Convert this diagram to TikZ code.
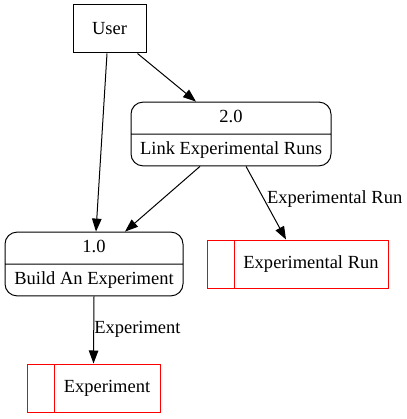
\documentclass[tikz,border=0pt]{standalone}
\usepackage{fontspec}
\setmainfont{Liberation Serif}
\usepackage{tikz}
\usetikzlibrary{shapes.multipart,arrows.meta}

\tikzset{
    proc/.style={rectangle split, rectangle split parts=2, draw, rounded corners=12pt,
        inner ysep=7pt, text height=13pt, text depth=4pt, align=center},
    entity/.style={draw, minimum height=48pt},
    store/.style={draw=red, minimum height=48pt, inner xsep=0pt,
        path picture={\draw[red] ([xshift=27pt]path picture bounding box.north west)
            -- ([xshift=27pt]path picture bounding box.south west);}},
    flow/.style={-{Triangle[length=13pt,width=9.5pt]}},
    flowlabel/.style={right, inner sep=0pt}
}

\begin{document}
\begin{tikzpicture}[x=1pt, y=-1pt, line width=1pt, font=\fontsize{18.5}{21}\selectfont]
                    \useasboundingbox (0,0) rectangle (406,419);
                    \node[entity, minimum width=73pt] (user) at (109.5, 29) {User};
                    \node[proc, minimum width=200pt] (p2) at (231, 134) {2.0 \nodepart{two} Link Experimental Runs};
                    \node[proc, minimum width=178pt] (p1) at (94, 264) {1.0 \nodepart{two} Build An Experiment};
                    \node[store, minimum width=181pt] (runstore) at (297.5, 264) {\hspace*{27pt}Experimental Run};
                    \node[store, minimum width=133pt] (expstore) at (93.5, 388) {\hspace*{27pt}Experiment};
                    \draw[flow] ([xshift=-2.5pt]user.south) -- ([xshift=2pt]p1.north);
                    \draw[flow] ([xshift=-9pt]user.south east) -- ([xshift=-35pt]p2.north);
                    \draw[flow] ([xshift=-31pt]p2.south) -- ([xshift=31pt]p1.north);
                    \draw[flow] ([xshift=15pt]p2.south) -- node[flowlabel, pos=0.44, xshift=3pt] {Experimental Run} ([xshift=-11.5pt]runstore.north);
                    \draw[flow] (p1.south) -- node[flowlabel, pos=0.49] {Experiment} (expstore.north);
                \end{tikzpicture}
\end{document}
